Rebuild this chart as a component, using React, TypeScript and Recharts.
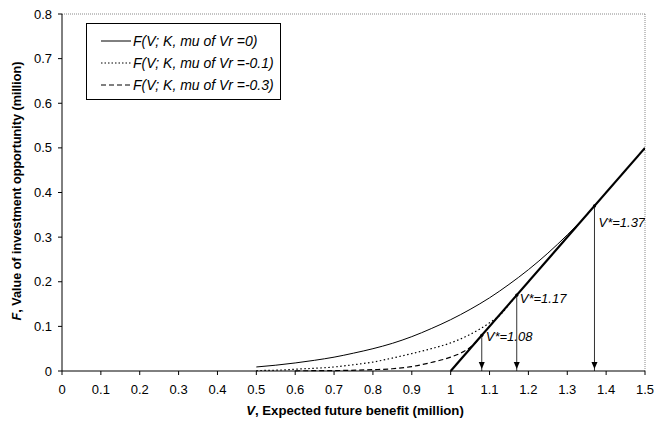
import { LineChart, Line, XAxis, YAxis, Legend, ReferenceLine, Label } from 'recharts';

const FONT = '"Liberation Sans", Arial, sans-serif';

const X_TICKS = [0, 0.1, 0.2, 0.3, 0.4, 0.5, 0.6, 0.7, 0.8, 0.9, 1, 1.1, 1.2, 1.3, 1.4, 1.5];
const Y_TICKS = [0, 0.1, 0.2, 0.3, 0.4, 0.5, 0.6, 0.7, 0.8];

// option value curves
const muZero = [
  { v: 0.5, f: 0.009 }, { v: 0.55, f: 0.013 }, { v: 0.6, f: 0.018 }, { v: 0.65, f: 0.024 },
  { v: 0.7, f: 0.031 }, { v: 0.75, f: 0.04 }, { v: 0.8, f: 0.05 }, { v: 0.85, f: 0.062 },
  { v: 0.9, f: 0.077 }, { v: 0.95, f: 0.095 }, { v: 1.0, f: 0.115 }, { v: 1.05, f: 0.138 },
  { v: 1.1, f: 0.164 }, { v: 1.15, f: 0.194 }, { v: 1.2, f: 0.227 }, { v: 1.25, f: 0.264 },
  { v: 1.3, f: 0.305 }, { v: 1.35, f: 0.35 }, { v: 1.37, f: 0.37 },
];

const muMinus01 = [
  { v: 0.5, f: 0.001 }, { v: 0.56, f: 0.002 }, { v: 0.6, f: 0.004 }, { v: 0.7, f: 0.009 },
  { v: 0.75, f: 0.014 }, { v: 0.8, f: 0.02 }, { v: 0.85, f: 0.029 }, { v: 0.9, f: 0.039 },
  { v: 0.95, f: 0.05 }, { v: 1.0, f: 0.063 }, { v: 1.05, f: 0.082 }, { v: 1.1, f: 0.108 },
  { v: 1.13, f: 0.128 }, { v: 1.15, f: 0.149 }, { v: 1.17, f: 0.17 },
];

const muMinus03 = [
  { v: 0.6, f: 0.0005 }, { v: 0.7, f: 0.001 }, { v: 0.8, f: 0.003 }, { v: 0.85, f: 0.005 },
  { v: 0.9, f: 0.01 }, { v: 0.95, f: 0.019 }, { v: 1.0, f: 0.031 }, { v: 1.03, f: 0.042 },
  { v: 1.06, f: 0.06 }, { v: 1.08, f: 0.08 },
];

// exercise payoff V - K
const payoff = [{ v: 1, f: 0 }, { v: 1.5, f: 0.5 }];

const thresholds = [
  { v: 1.37, f: 0.37, label: 'V*=1.37', dx: 4, dy: 21 },
  { v: 1.17, f: 0.17, label: 'V*=1.17', dx: 3, dy: 8 },
  { v: 1.08, f: 0.08, label: 'V*=1.08', dx: 4, dy: 6 },
];

const LEGEND = [
  { name: 'F(V; K, mu of Vr =0)', dash: undefined },
  { name: 'F(V; K, mu of Vr =-0.1)', dash: '1.5 2' },
  { name: 'F(V; K, mu of Vr =-0.3)', dash: '5 3' },
];

function LegendBox() {
  return (
    <div style={{ border: '1px solid #000', background: '#fff', width: 195, height: 77, boxSizing: 'border-box', fontFamily: FONT }}>
      {LEGEND.map((item, i) => (
        <div key={i} style={{ display: 'flex', alignItems: 'center', height: 22, marginTop: i === 0 ? 6 : 0 }}>
          <svg width={46} height={10} style={{ flex: 'none' }}>
            <line x1={14} y1={5} x2={44} y2={5} stroke="#000" strokeWidth={1} strokeDasharray={item.dash} />
          </svg>
          <span style={{ fontStyle: 'italic', fontSize: 14, marginLeft: 0, whiteSpace: 'nowrap' }}>{item.name}</span>
        </div>
      ))}
    </div>
  );
}

function makeArrowDot(idx: number) {
  const t = thresholds[idx];
  return (props: any) => {
    const { cx, cy, index } = props;
    if (index === 0) {
      return (
        <g key={`top-${idx}`}>
          <circle cx={cx} cy={cy} r={1.6} fill="#000" />
          <text x={cx + t.dx} y={cy + t.dy} fontSize={13} fontStyle="italic" fontFamily={FONT} fill="#000">
            {t.label}
          </text>
        </g>
      );
    }
    return <path key={`bot-${idx}`} d={`M${cx - 3},${cy - 9} L${cx + 3},${cy - 9} L${cx},${cy - 2} Z`} fill="#000" />;
  };
}

export default function App() {
  return (
    <div style={{ position: 'absolute', left: 0, top: 0, width: 667, height: 423, background: '#fff' }}>
      <LineChart width={667} height={423} margin={{ top: 14, right: 22, bottom: 22, left: 0 }}>
        <XAxis
          type="number"
          dataKey="v"
          domain={[0, 1.5]}
          ticks={X_TICKS}
          interval={0}
          allowDataOverflow
          tickSize={4}
          tickMargin={10}
          height={30}
          stroke="#000"
          tick={{ fill: '#000', fontSize: 13, fontFamily: FONT }}
          tickFormatter={(v: number) => String(v)}
        >
          <Label
            content={() => (
              <text x={355} y={415} textAnchor="middle" fontSize={13.2} fontWeight="bold" fontFamily={FONT} fill="#000">
                <tspan fontStyle="italic">V</tspan>, Expected future benefit (million)
              </text>
            )}
          />
        </XAxis>
        <YAxis
          type="number"
          domain={[0, 0.8]}
          ticks={Y_TICKS}
          interval={0}
          width={62}
          tickSize={4}
          tickMargin={6}
          stroke="#000"
          tick={{ fill: '#000', fontSize: 13, fontFamily: FONT }}
          tickFormatter={(v: number) => String(v)}
        >
          <Label
            content={() => (
              <text x={18} y={191} transform="rotate(-90 18 191)" textAnchor="middle" dominantBaseline="middle" fontSize={12.6} fontWeight="bold" fontFamily={FONT} fill="#000">
                <tspan fontStyle="italic">F</tspan>, Value of investment opportunity (million)
              </text>
            )}
          />
        </YAxis>
        <ReferenceLine y={0.8} stroke="#888" strokeDasharray="1 1" />
        <ReferenceLine x={1.5} stroke="#888" strokeDasharray="1 1" />
        <Legend
          layout="horizontal"
          verticalAlign="middle"
          align="center"
          wrapperStyle={{ left: 86, top: 23, width: 195 }}
          content={() => <LegendBox />}
        />
        <Line data={muZero} dataKey="f" type="monotone" stroke="#000" strokeWidth={1} dot={false} isAnimationActive={false} legendType="none" />
        <Line data={muMinus01} dataKey="f" type="monotone" stroke="#000" strokeWidth={1.2} strokeDasharray="1.5 2.5" dot={false} isAnimationActive={false} legendType="none" />
        <Line data={muMinus03} dataKey="f" type="monotone" stroke="#000" strokeWidth={1.2} strokeDasharray="5 3" dot={false} isAnimationActive={false} legendType="none" />
        <Line data={payoff} dataKey="f" type="linear" stroke="#000" strokeWidth={2.2} dot={false} isAnimationActive={false} legendType="none" />
        {thresholds.map((t, i) => (
          <Line
            key={t.label}
            data={[{ v: t.v, f: t.f }, { v: t.v, f: 0 }]}
            dataKey="f"
            type="linear"
            stroke="#333"
            strokeWidth={1}
            dot={makeArrowDot(i)}
            isAnimationActive={false}
            legendType="none"
          />
        ))}
      </LineChart>
    </div>
  );
}
